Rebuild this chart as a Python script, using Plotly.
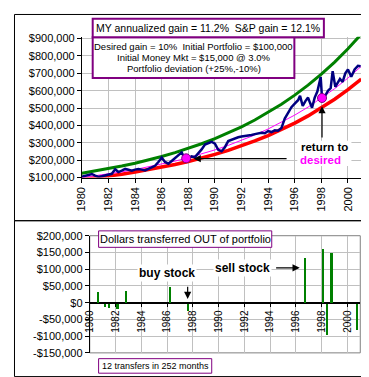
import plotly.graph_objects as go

# ---------------- data ----------------
years_annual = [1980, 1981, 1982, 1983, 1984, 1985, 1986, 1987, 1988, 1989, 1990,
                1991, 1992, 1993, 1994, 1995, 1996, 1997, 1998, 1999, 2000, 2001]
upper_band = [125000, 137500, 151300, 166400, 183000, 201300, 221400, 243600, 268000, 294800, 324200,
              356600, 392300, 431500, 474700, 522100, 574300, 631800, 694900, 764500, 840900, 925000]
desired = [100000, 110000, 121000, 133100, 146400, 161100, 177200, 194900, 214400, 235800, 259400,
           285300, 313800, 345200, 379700, 417700, 459500, 505400, 556000, 611600, 672700, 740000]
lower_band = [90000, 99000, 108900, 119800, 131800, 145000, 159400, 175400, 192900, 212200, 233400,
              256800, 282500, 310700, 341700, 375900, 413500, 454900, 500400, 550400, 605400, 666000]

portfolio_years = [1980.00, 1980.25, 1980.50, 1980.75, 1981.00, 1981.25, 1981.50, 1981.75,
                   1982.00, 1982.25, 1982.50, 1982.75, 1983.00, 1983.25, 1983.50, 1983.75,
                   1984.00, 1984.25, 1984.50, 1984.75, 1985.00, 1985.25, 1985.50, 1985.75,
                   1986.00, 1986.25, 1986.50, 1986.75, 1987.00, 1987.25, 1987.50, 1987.70,
                   1987.84, 1988.00, 1988.25, 1988.50, 1988.75, 1989.00, 1989.25, 1989.50,
                   1989.75, 1990.00, 1990.25, 1990.50, 1990.75, 1991.00, 1991.25, 1991.50,
                   1991.75, 1992.00, 1992.25, 1992.50, 1992.75, 1993.00, 1993.25, 1993.50,
                   1993.75, 1994.00, 1994.25, 1994.50, 1994.75, 1995.00, 1995.25, 1995.50,
                   1995.75, 1996.00, 1996.25, 1996.40, 1996.60, 1996.80, 1997.00, 1997.15,
                   1997.30, 1997.50, 1997.70, 1997.95, 1998.05, 1998.25, 1998.50, 1998.70,
                   1998.85, 1999.05, 1999.25, 1999.40, 1999.60, 1999.80, 2000.00, 2000.25,
                   2000.50, 2000.75, 2000.95]
portfolio_values = [105000, 110000, 116000, 121000, 112000, 104000, 108000, 112000,
                    116000, 122000, 148000, 132000, 140000, 150000, 145000, 140000,
                    146000, 150000, 146000, 141000, 150000, 158000, 168000, 190000,
                    215000, 190000, 180000, 196000, 212000, 226000, 245000, 215000,
                    211000, 212000, 222000, 218000, 238000, 262000, 290000, 300000,
                    306000, 295000, 260000, 252000, 275000, 310000, 318000, 322000,
                    332000, 336000, 338000, 340000, 345000, 350000, 352000, 358000,
                    355000, 368000, 362000, 372000, 370000, 385000, 440000, 470000,
                    505000, 525000, 545000, 570000, 512000, 540000, 560000, 530000,
                    502000, 560000, 595000, 678000, 558000, 565000, 600000, 615000,
                    712000, 622000, 650000, 668000, 650000, 700000, 722000, 680000,
                    722000, 743000, 740000]

return_years = [1987.84, 1998.05]
return_values = [211000, 558000]

transfer_years = [1980.63, 1981.2, 1981.47, 1982.13, 1982.8, 1986.2, 1987.58,
                  1996.67, 1998.05, 1998.43, 1998.76, 2000.72]
transfer_values = [32000, -13000, -15000, -17000, 35000, 47000, -25000,
                   134000, 160000, -97000, 148000, -80000]
transfer_widths = [0.08, 0.08, 0.08, 0.2, 0.08, 0.08, 0.08, 0.08, 0.08, 0.08, 0.2, 0.08]

top_ticks = [100000, 200000, 300000, 400000, 500000, 600000, 700000, 800000, 900000]
top_ticktext = ["$100,000", "$200,000", "$300,000", "$400,000", "$500,000",
                "$600,000", "$700,000", "$800,000", "$900,000"]
bot_ticks = [-150000, -100000, -50000, 0, 50000, 100000, 150000, 200000]
bot_ticktext = ["-$150,000", "-$100,000", "-$50,000", "$0", "$50,000",
                "$100,000", "$150,000", "$200,000"]
year_ticks = [1980, 1982, 1984, 1986, 1988, 1990, 1992, 1994, 1996, 1998, 2000]
year_ticktext = ["1980", "1982", "1984", "1986", "1988", "1990", "1992", "1994",
                 "1996", "1998", "2000"]

# ---------------- helpers ----------------
W, H = 369, 377
def fx(px):
    return px / W
def fy(py):
    return 1 - py / H

FONT = "Arial, Liberation Sans, sans-serif"
PURPLE = "#800080"
GRID = "#c0c0c0"

fig = go.Figure()

# top chart
fig.add_trace(go.Scatter(x=years_annual, y=upper_band, mode="lines",
                         line=dict(color="#008000", width=3), xaxis="x", yaxis="y"))
fig.add_trace(go.Scatter(x=years_annual, y=lower_band, mode="lines",
                         line=dict(color="#ff0000", width=3.5), xaxis="x", yaxis="y"))
fig.add_trace(go.Scatter(x=years_annual, y=desired, mode="lines",
                         line=dict(color="#ff00ff", width=1), xaxis="x", yaxis="y"))
fig.add_trace(go.Scatter(x=portfolio_years, y=portfolio_values, mode="lines",
                         line=dict(color="#000080", width=2.5), xaxis="x", yaxis="y"))
fig.add_trace(go.Scatter(x=return_years, y=return_values, mode="markers",
                         marker=dict(color="#ff00ff", size=9, line=dict(color="#800080", width=1)),
                         xaxis="x", yaxis="y"))

# bottom chart
fig.add_trace(go.Bar(x=transfer_years, y=transfer_values, width=transfer_widths,
                     marker=dict(color="#008000", line=dict(width=0)),
                     xaxis="x2", yaxis="y2"))

axis_font = dict(family=FONT, size=11, color="black")

fig.update_layout(
    width=W, height=H, autosize=False,
    margin=dict(l=0, r=0, t=0, b=0),
    paper_bgcolor="white", plot_bgcolor="white",
    showlegend=False, bargap=0,
    xaxis=dict(domain=[fx(69), fx(353)], range=[1980, 2001], anchor="y",
               tickvals=year_ticks, ticktext=year_ticktext, tickangle=-90,
               tickfont=axis_font, showgrid=True, gridcolor=GRID, gridwidth=1,
               showline=True, linecolor="black", linewidth=1,
               ticks="outside", ticklen=4, tickcolor="black", zeroline=False),
    yaxis=dict(domain=[fy(169), fy(23.5)], range=[100000, 910000], anchor="x",
               tickvals=top_ticks, ticktext=top_ticktext, tickfont=axis_font,
               showgrid=True, gridcolor=GRID, gridwidth=1,
               showline=True, linecolor="black", linewidth=1,
               ticks="outside", ticklen=4, tickcolor="black", zeroline=False),
    xaxis2=dict(domain=[fx(77), fx(352)], range=[1980, 2001], anchor="free",
                position=fy(298),
                tickvals=year_ticks, ticktext=year_ticktext, tickangle=-90,
                tickfont=dict(family=FONT, size=10, color="black"),
                showgrid=True, gridcolor=GRID, gridwidth=1,
                showline=True, linecolor="black", linewidth=1,
                ticks="outside", ticklen=3, tickcolor="black", zeroline=False),
    yaxis2=dict(domain=[fy(350), fy(229)], range=[-150000, 200000], anchor="x2",
                tickvals=bot_ticks, ticktext=bot_ticktext, tickfont=axis_font,
                showgrid=True, gridcolor=GRID, gridwidth=1,
                showline=True, linecolor="black", linewidth=1,
                ticks="outside", ticklen=4, tickcolor="black",
                zeroline=True, zerolinecolor="black", zerolinewidth=1),
)

shapes = []
# panel borders
shapes.append(dict(type="rect", xref="paper", yref="paper",
                   x0=fx(0.5), x1=fx(366.5), y0=fy(0.5), y1=fy(213.5),
                   line=dict(color="black", width=1), fillcolor="rgba(0,0,0,0)", layer="above"))
shapes.append(dict(type="rect", xref="paper", yref="paper",
                   x0=fx(0.5), x1=fx(366.5), y0=fy(213.5), y1=fy(374.5),
                   line=dict(color="black", width=1), fillcolor="rgba(0,0,0,0)", layer="above"))
# bottom plot-area border (gray)
shapes.append(dict(type="rect", xref="paper", yref="paper",
                   x0=fx(77), x1=fx(352), y0=fy(350), y1=fy(229),
                   line=dict(color="#808080", width=1), fillcolor="rgba(0,0,0,0)", layer="below"))
# top title boxes
shapes.append(dict(type="rect", xref="paper", yref="paper",
                   x0=fx(80), x1=fx(285), y0=fy(66), y1=fy(24),
                   line=dict(color=PURPLE, width=2), fillcolor="white", layer="above"))
shapes.append(dict(type="rect", xref="paper", yref="paper",
                   x0=fx(80), x1=fx(315), y0=fy(24), y1=fy(5),
                   line=dict(color=PURPLE, width=2), fillcolor="white", layer="above"))
# bottom labels boxes
shapes.append(dict(type="rect", xref="paper", yref="paper",
                   x0=fx(86), x1=fx(262), y0=fy(241), y1=fy(224),
                   line=dict(color=PURPLE, width=1), fillcolor="white", layer="above"))
shapes.append(dict(type="rect", xref="paper", yref="paper",
                   x0=fx(86), x1=fx(201), y0=fy(371), y1=fy(356),
                   line=dict(color=PURPLE, width=1), fillcolor="white", layer="above"))
# white backdrop for "return to desired"
shapes.append(dict(type="rect", xref="paper", yref="paper",
                   x0=fx(288), x1=fx(343), y0=fy(157), y1=fy(131),
                   line=dict(width=0), fillcolor="white", layer="above"))
fig.update_layout(shapes=shapes)

ann = []
def text(px, py, s, size, color="black", bold=False, bg=None, pad=1):
    d = dict(xref="paper", yref="paper", x=fx(px), y=fy(py), xanchor="center", yanchor="middle",
             text=("<b>%s</b>" % s) if bold else s, showarrow=False,
             font=dict(family=FONT, size=size, color=color), borderpad=pad)
    if bg:
        d["bgcolor"] = bg
    ann.append(d)

text(197.5, 14.5, "MY annualized gain = 11.2%  S&amp;P gain = 12.1%", 10.5)
text(182.5, 33.5, "Desired gain = 10%  Initial Portfolio = $100,000", 9.5)
text(182.5, 45, "Initial Money Mkt = $15,000 @ 3.0%", 9.5)
text(182.5, 56.5, "Portfolio deviation (+25%,-10%)", 9.5)
text(316, 137, "return to", 11.5, bold=True, pad=0)
text(312, 150.5, "desired", 11.5, color="#ff00ff", bold=True, pad=0)
text(174, 232.5, "Dollars transferred OUT of portfolio", 11)
text(143.5, 363.5, "12 transfers in 252 months", 9)
text(155.5, 267.5, "buy stock", 12, bold=True, bg="white")
text(232.5, 262, "sell stock", 12, bold=True, bg="white")

def arrow(xref, yref, x, y, ax, ay):
    ann.append(dict(xref=xref, yref=yref, axref=xref, ayref=yref, x=x, y=y, ax=ax, ay=ay,
                    text="", showarrow=True, arrowhead=2, arrowsize=1.2, arrowwidth=1.2,
                    arrowcolor="black", standoff=0, startstandoff=0))

arrow("x", "y", 1988.4, 209000, 1995.5, 209000)
arrow("x", "y", 1998.05, 511000, 1998.05, 322000)
arrow("x2", "y2", 1987.6, 11000, 1987.6, 52000)
arrow("x2", "y2", 1996.3, 104000, 1994.35, 104000)

fig.update_layout(annotations=ann)

fig.write_html("out.html")
